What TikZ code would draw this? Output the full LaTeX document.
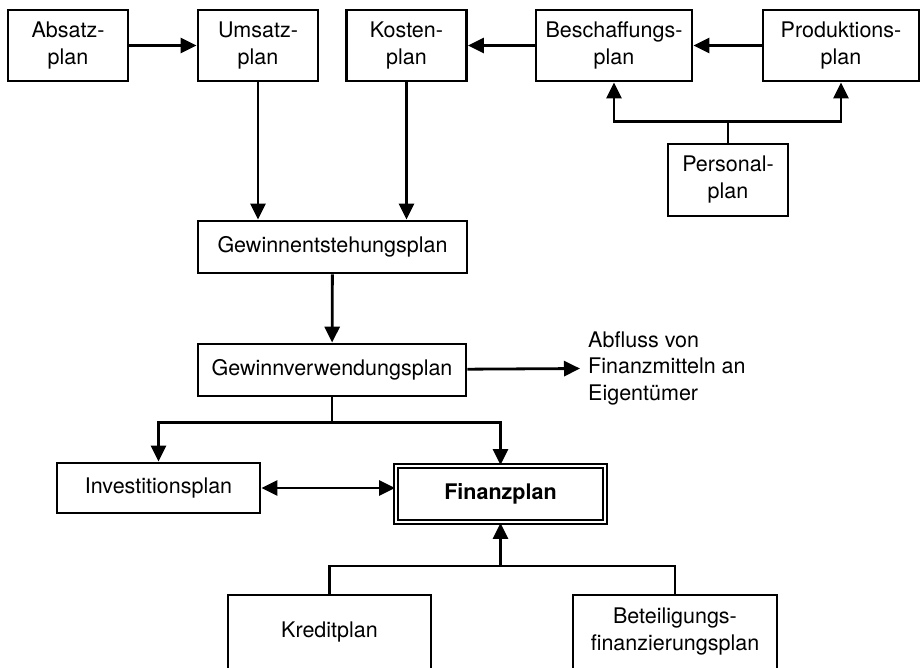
\documentclass[tikz,border=0pt]{standalone}
\usepackage{fontspec}
\setmainfont{TeX Gyre Heros}
\usetikzlibrary{arrows.meta,positioning,calc}
\tikzset{
    plan/.style  = {rectangle, draw=black, line width=2.8pt, align=center, inner sep=2pt,
                    font=\fontsize{21.5}{27}\selectfont},
    flow/.style  = {-{Triangle[length=16pt,width=15pt]}, line width=2.8pt, draw=black},
    dflow/.style = {{Triangle[length=16pt,width=15pt]}-{Triangle[length=16pt,width=15pt]}, line width=2.8pt, draw=black},
    link/.style  = {line width=2.8pt, draw=black}
}

\begin{document}
\begin{tikzpicture}[x=1pt, y=-1pt,
        smallplan/.style = {plan, minimum width=120pt, minimum height=71pt},
        wideplan/.style  = {plan, minimum width=156pt, minimum height=71pt},
        longplan/.style  = {plan, minimum height=52pt},
        mainplan/.style  = {plan, font=\fontsize{21.5}{27}\selectfont\bfseries, line width=1.8pt,
                            double=white, double distance=2.4pt, minimum width=209pt, minimum height=56pt}
    ]
        \useasboundingbox (0,0) rectangle (920,668);

        % Top row
        \node[smallplan] (absatz)      at (68,45.5)  {Absatz-\\plan};
        \node[smallplan] (umsatz)      at (258,45.5) {Umsatz-\\plan};
        \node[smallplan] (kosten)      at (406.5,45.5) {Kosten-\\plan};
        \node[wideplan]  (beschaffung) at (614,45.5) {Beschaffungs-\\plan};
        \node[wideplan]  (produktion)  at (841,45.5) {Produktions-\\plan};
        \node[smallplan, minimum height=72pt] (personal) at (728,180) {Personal-\\plan};

        % Middle
        \node[longplan, minimum width=269pt] (entstehung) at (332.5,247) {Gewinnentstehungsplan};
        \node[longplan, minimum width=268pt] (verwendung) at (332,370) {Gewinnverwendungsplan};
        \node[anchor=west, align=left, inner xsep=8pt, inner ysep=0pt,
              font=\fontsize{21.5}{26.5}\selectfont] (abfluss) at (580,368)
              {Abfluss von\\Finanzmitteln an\\Eigentümer};

        % Bottom
        \node[longplan, minimum width=203pt, minimum height=50pt] (invest) at (158.5,488) {Investitionsplan};
        \node[mainplan] (finanz) at (500.5,494) {Finanzplan};
        \node[plan, minimum width=203pt, minimum height=74pt] (kredit) at (329.5,632) {Kreditplan};
        \node[plan, minimum width=204pt, minimum height=74pt] (beteiligung) at (675,632) {Beteiligungs-\\finanzierungsplan};

        % Connectors
        \draw[flow] (absatz) -- (umsatz);
        \draw[flow] (beschaffung) -- (kosten);
        \draw[flow] (produktion) -- (beschaffung);
        \draw[flow] (personal.north) -- ++(0,-21) -| (beschaffung.south);
        \draw[flow] (personal.north) -- ++(0,-21) -| (produktion.south);
        \draw[flow] (umsatz) -- (umsatz |- entstehung.north);
        \draw[flow] (kosten) -- (kosten |- entstehung.north);
        \draw[flow] (entstehung) -- (verwendung);
        \draw[flow] (verwendung) -- (abfluss);
        \draw[flow] (verwendung.south) -- ++(0,25) -| (invest.north);
        \draw[flow] (verwendung.south) -- ++(0,25) -| (finanz.north);
        \draw[dflow] (invest.east) -- (invest.east -| finanz.west);
        \coordinate (kb) at (0,566);
        \draw[link] (kredit.north) -- (kredit.north |- kb) -| (beteiligung.north);
        \draw[flow] (finanz.south |- kb) -- (finanz.south);

\end{tikzpicture}
\end{document}
